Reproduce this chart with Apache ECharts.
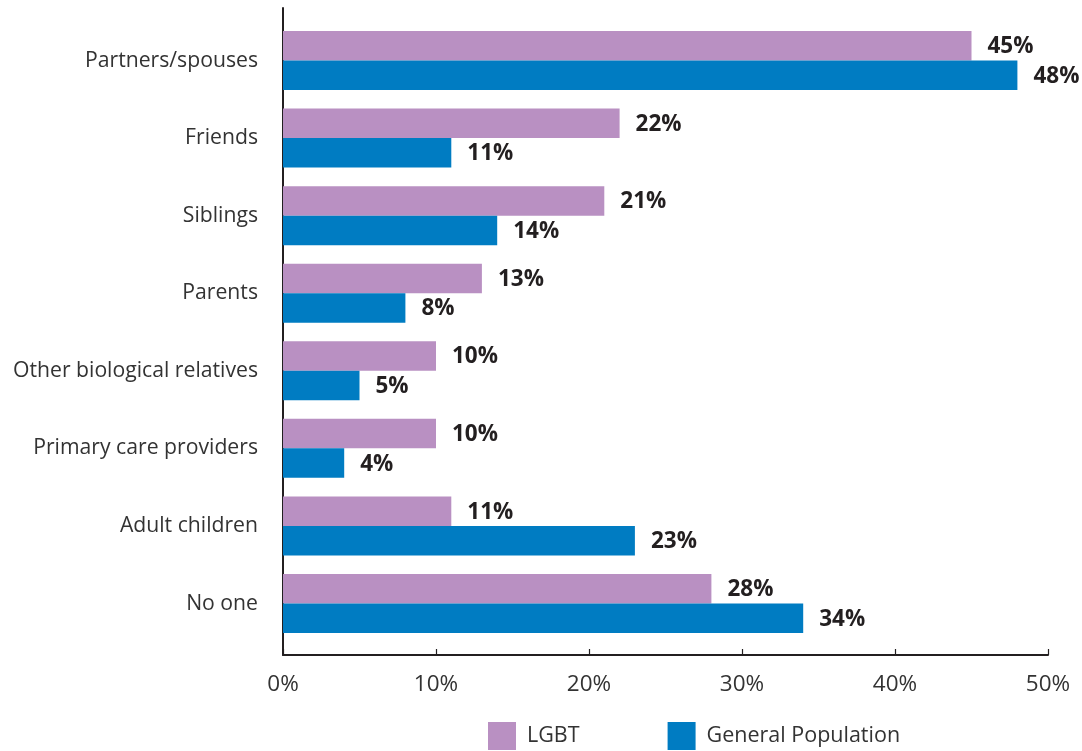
<!DOCTYPE html>
<html>
<head>
<meta charset="utf-8">
<script src="https://cdn.jsdelivr.net/npm/echarts@6/dist/echarts.min.js"></script>
<style>html,body{margin:0;padding:0;background:#fff}#c{width:1082px;height:751px}</style>
</head>
<body>
<div id="c"></div>
<script>
const categories = ["Partners/spouses","Friends","Siblings","Parents","Other biological relatives","Primary care providers","Adult children","No one"];
const lgbt = [45,22,21,13,10,10,11,28];
const general = [48,11,14,8,5,4,23,34];
const seriesNames = ["LGBT","General Population"];
const tickValues = [0,10,20,30,40,50];

const FONT = "Open Sans";
const TXT = "#231f20";
const chart = echarts.init(document.getElementById('c'));
chart.setOption({
  animation:false,
  textStyle:{fontFamily:FONT},
  grid:[
    {left:283,right:34,top:8,bottom:96,containLabel:false},
    {left:283,right:34,top:21.7,bottom:108.7,containLabel:false}
  ],
  legend:{
    data:seriesNames, left:483, top:717, itemWidth:28, itemHeight:28, itemGap:88,
    icon:'rect',
    textStyle:{fontFamily:FONT,fontSize:21.5,color:'#333',padding:[0,0,0,6]}
  },
  xAxis:[
    {gridIndex:0,type:'value',min:0,max:50,interval:10,
     axisLine:{show:true,lineStyle:{color:TXT,width:2}},
     axisTick:{show:true,inside:true,length:6,lineStyle:{color:TXT,width:1.2}},
     splitLine:{show:false},
     axisLabel:{formatter:v=>v+'%',fontSize:22.5,color:'#333',margin:18,fontFamily:FONT}},
    {gridIndex:1,type:'value',min:0,max:50,show:false,splitLine:{show:false}}
  ],
  yAxis:[
    {gridIndex:0,type:'value',min:0,max:1,
     axisLine:{show:true,lineStyle:{color:TXT,width:2}},
     axisTick:{show:false},axisLabel:{show:false},splitLine:{show:false}},
    {gridIndex:1,type:'category',data:categories,inverse:true,
     axisLine:{show:false},axisTick:{show:false},
     axisLabel:{fontSize:21.2,color:'#333',margin:25,fontFamily:FONT}}
  ],
  series:[
    {name:seriesNames[0],type:'bar',xAxisIndex:1,yAxisIndex:1,data:lgbt,barWidth:29.5,barGap:'0%',
     itemStyle:{color:'#b990c2'},
     label:{show:true,position:'right',distance:16,offset:[0,1],formatter:'{c}%',fontSize:22.5,fontWeight:'bold',color:TXT,fontFamily:FONT}},
    {name:seriesNames[1],type:'bar',xAxisIndex:1,yAxisIndex:1,data:general,barWidth:29.5,barGap:'0%',
     itemStyle:{color:'#007cc2'},
     label:{show:true,position:'right',distance:16,offset:[0,1],formatter:'{c}%',fontSize:22.5,fontWeight:'bold',color:TXT,fontFamily:FONT}}
  ]
});
</script>
</body>
</html>
